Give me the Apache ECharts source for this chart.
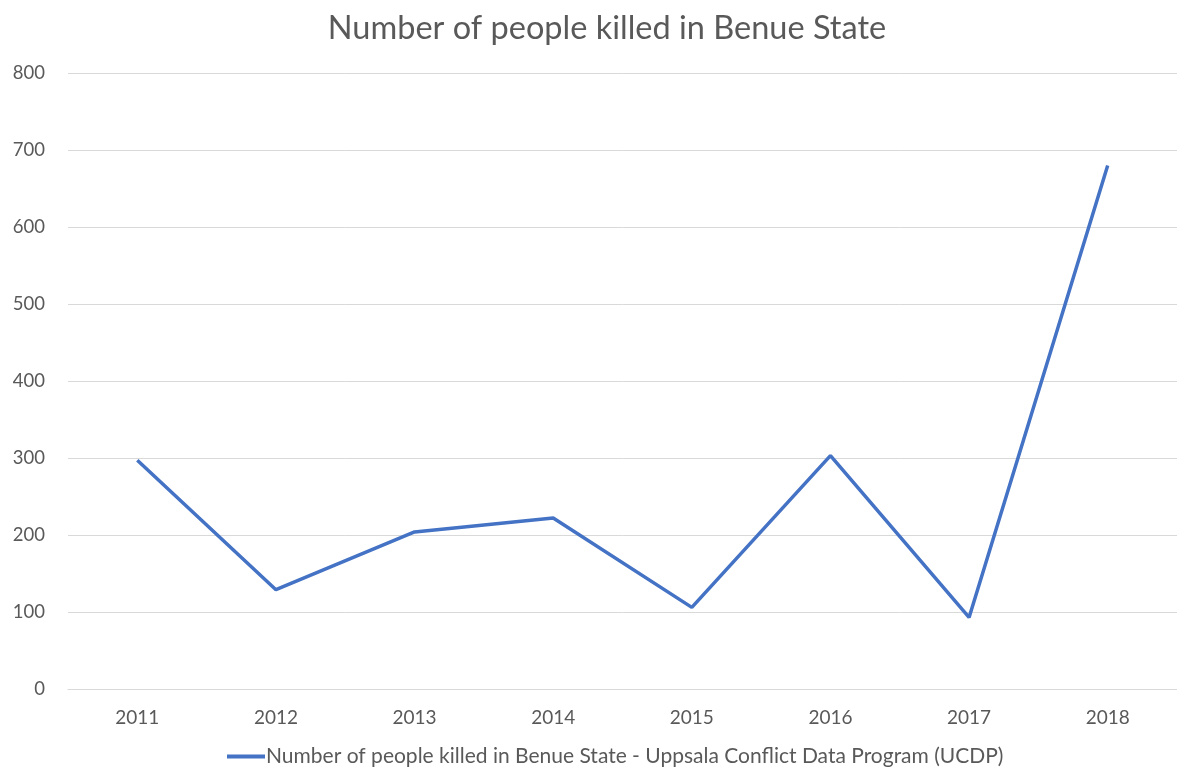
<!DOCTYPE html>
<html><head><meta charset="utf-8">
<script src="https://cdn.jsdelivr.net/npm/echarts@6/dist/echarts.min.js"></script>
<style>html,body{margin:0;padding:0;background:#fff}#c{width:1177px;height:772px}</style>
</head><body><div id="c"></div>
<script>
var titleText = 'Number of people killed in Benue State';
var seriesName = 'Number of people killed in Benue State - Uppsala Conflict Data Program (UCDP)';
var years = ['2011','2012','2013','2014','2015','2016','2017','2018'];
var killed = [297, 129, 204, 222, 106, 303, 93, 680];
var yTicks = {min: 0, max: 800, interval: 100};

var chart = echarts.init(document.getElementById('c'), null, {renderer: 'canvas'});
var font = 'Lato, "Open Sans", sans-serif';
chart.setOption({
  animation: false,
  backgroundColor: '#ffffff',
  title: {
    text: titleText, left: 602, top: 7, textAlign: 'center',
    textStyle: {fontFamily: font, fontSize: 32.5, fontWeight: 'normal', color: '#595959'}
  },
  legend: {
    bottom: 0, left: 222,
    data: [{name: seriesName, icon: 'path://M0,0H10V1H0Z'}],
    itemWidth: 38, itemHeight: 4, itemGap: 2,
    textStyle: {fontFamily: font, fontSize: 21, color: '#595959', padding: [0,0,0,-4]}
  },
  grid: {left: 68, right: -12, top: 73, bottom: 83, containLabel: false},
  xAxis: {
    type: 'category', data: years, boundaryGap: true,
    axisLine: {show: true, lineStyle: {color: '#d9d9d9', width: 1}},
    axisTick: {show: false},
    axisLabel: {fontFamily: font, fontSize: 19, color: '#595959', margin: 19}
  },
  yAxis: {
    type: 'value', min: yTicks.min, max: yTicks.max, interval: yTicks.interval,
    axisLine: {show: false}, axisTick: {show: false},
    axisLabel: {fontFamily: font, fontSize: 18.5, color: '#595959', margin: 23},
    splitLine: {lineStyle: {color: '#d9d9d9', width: 1}}
  },
  series: [{
    name: seriesName, type: 'line', data: killed,
    showSymbol: false, symbol: 'none',
    lineStyle: {color: '#4472C4', width: 3.5},
    itemStyle: {color: '#4472C4'}
  }]
});
</script></body></html>
